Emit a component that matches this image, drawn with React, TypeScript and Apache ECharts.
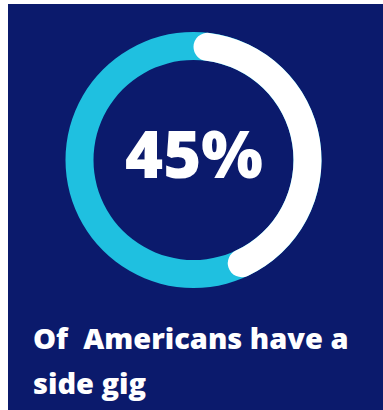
import React, { useEffect, useRef } from 'react';
import * as echarts from 'echarts';

const categories = ['Have a side gig', 'No side gig'];
const values = [45, 55];
const centerLabel = '45%';
const captionLines = ['Of  Americans have a', 'side gig'];

const NAVY = '#0b1a6c';
const CYAN = '#1fc0e0';
const WHITE = '#ffffff';

export default function App() {
  const ref = useRef<HTMLDivElement>(null);
  useEffect(() => {
    const chart = echarts.init(ref.current!, null, { renderer: 'svg' });
    const center: [number, number] = [185.5, 156];
    const radius: [number, number] = [100, 128];
    const total = values.reduce((a, b) => a + b, 0);
    chart.setOption({
      animation: false,
      backgroundColor: NAVY,
      series: [
        {
          type: 'pie',
          center,
          radius,
          silent: true,
          label: { show: false },
          labelLine: { show: false },
          itemStyle: { borderWidth: 0 },
          data: [{ value: total, name: 'All', itemStyle: { color: CYAN } }],
        },
        {
          type: 'pie',
          center,
          radius,
          startAngle: 90,
          clockwise: true,
          silent: true,
          label: { show: false },
          labelLine: { show: false },
          itemStyle: { borderWidth: 0, borderRadius: 14 },
          data: [
            { value: values[0], name: categories[0], itemStyle: { color: WHITE } },
            { value: values[1], name: categories[1], itemStyle: { color: 'transparent' } },
          ],
        },
      ],
      graphic: [
        {
          type: 'text',
          x: 186,
          y: 149,
          style: {
            text: centerLabel,
            fill: WHITE,
            font: '800 65px "Open Sans"',
            align: 'center',
            verticalAlign: 'middle',
          },
        },
        {
          type: 'text',
          x: 25,
          y: 333,
          style: {
            text: captionLines[0],
            fill: WHITE,
            font: '800 29px "Open Sans"',
            align: 'left',
            verticalAlign: 'middle',
          },
        },
        {
          type: 'text',
          x: 25,
          y: 378,
          style: {
            text: captionLines[1],
            fill: WHITE,
            font: '800 29px "Open Sans"',
            align: 'left',
            verticalAlign: 'middle',
          },
        },
      ],
    });
    return () => chart.dispose();
  }, []);
  return (
    <div
      ref={ref}
      style={{ position: 'fixed', left: 8, top: 4, width: 375, height: 406 }}
    />
  );
}
